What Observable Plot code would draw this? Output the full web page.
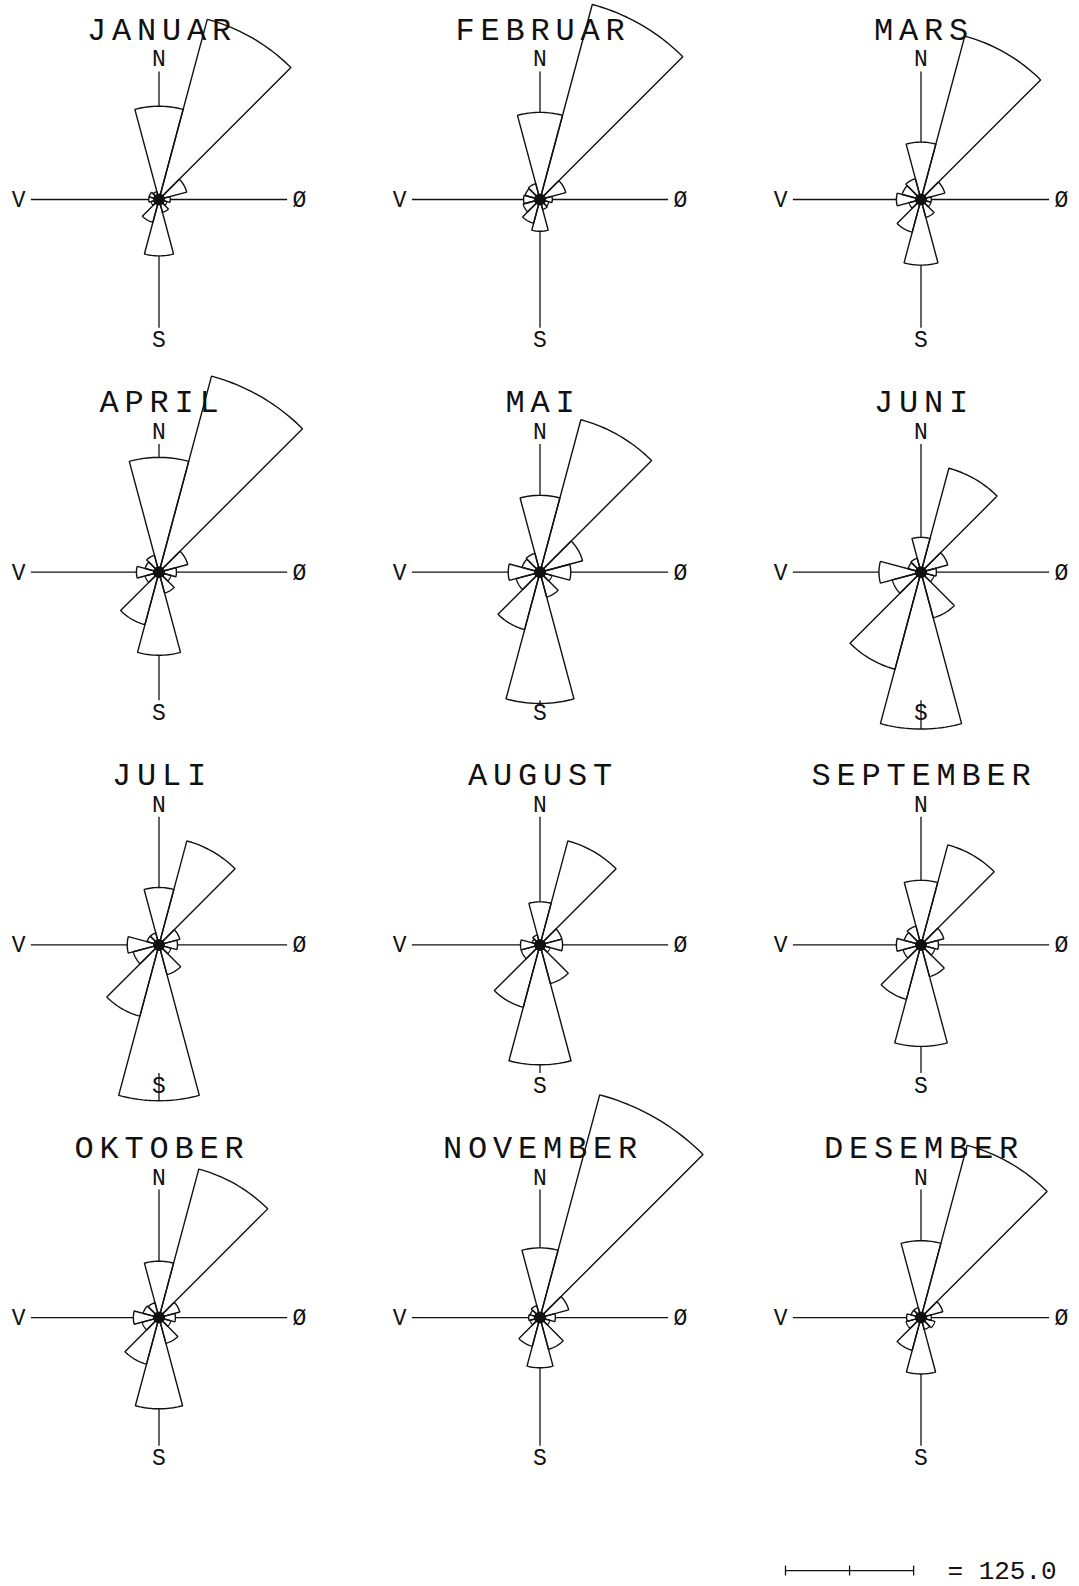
<!DOCTYPE html>
<html>
<head>
<meta charset="utf-8">
<script src="https://cdn.jsdelivr.net/npm/d3@7"></script>
<script src="https://cdn.jsdelivr.net/npm/@observablehq/plot@0.6"></script>
<style>
  html, body { margin: 0; padding: 0; background: #fff; }
  #chart svg { display: block; }
</style>
</head>
<body>
<div id="chart"></div>
<script>
// ---------- data ----------
const months = ["JANUAR","FEBRUAR","MARS","APRIL","MAI","JUNI","JULI","AUGUST","SEPTEMBER","OKTOBER","NOVEMBER","DESEMBER"];
const directions = [0, 30, 60, 90, 120, 150, 180, 210, 240, 270, 300, 330];
const cardinalDirections = [0, 90, 180, 270];
const cardinalLabels = ["N", "Ø", "S", "V"];

const januar    = [91, 182, 28, 11,  8, 13,  55, 23,  8, 10, 10,  8];
const februar   = [85, 197, 26, 12,  9, 10,  31, 24, 17, 16, 15, 16];
const mars      = [56, 165, 24, 10, 10, 18,  64, 33, 12, 24, 19, 21];
const april     = [112,198, 29, 17, 12, 21,  81, 53, 14, 22, 14, 17];
const mai       = [75, 154, 43, 30, 12, 25, 128, 58, 24, 31, 18, 19];
const juni      = [34, 105, 27, 15, 13, 46, 153, 98, 29, 41, 13, 14];
const juli      = [56, 105, 21, 18, 12, 30, 152, 72, 26, 31, 12, 12];
const august    = [42, 105, 22, 22, 10, 39, 117, 63, 19, 19,  8, 10];
const september = [63, 101, 23, 17, 14, 32,  99, 55, 18, 24, 17, 19];
const oktober   = [55, 150, 21, 16, 12, 26,  89, 47, 17, 25, 16, 15];
const november  = [68, 225, 29, 15, 10, 32,  49, 29, 10, 11, 10, 12];
const desember  = [75, 174, 22, 10, 14, 12,  55, 33, 15, 14, 10, 10];
const monthValues = [januar, februar, mars, april, mai, juni, juli, august, september, oktober, november, desember];

const scaleBarValue = 125.0;

// ---------- layout ----------
const W = 1079, H = 1586;
const pxPerUnit = 1.025;
const L = { marginTop: 31.3, marginBottom: 101.2, marginLeft: 0, marginRight: 0, padX: 0.168, padY: 0.1 };
const stepX = (W - L.marginLeft - L.marginRight) / (3 - L.padX);
const bwX = stepX * (1 - L.padX);
const stepY = (H - L.marginTop - L.marginBottom) / (4 - L.padY);
const bwY = stepY * (1 - L.padY);
const halfX = bwX / 2 / pxPerUnit, halfY = bwY / 2 / pxPerUnit;

const sectorHalf = 15, arcStep = 1.5;
const axisLength = 125, labelRadius = 137, titleRadius = 166;
const bar = { col: 2, row: 3, x0: -132.2, y: -246.8, tick: 4.8, textGap: 33 };

const rad = Math.PI / 180;
const px = (r, a) => r * Math.sin(a * rad);
const py = (r, a) => r * Math.cos(a * rad);

// ---------- derived tables ----------
const panels = months.map((name, m) => ({ name, col: m % 3, row: Math.floor(m / 3) }));

const sectorPts = [];
monthValues.forEach((vals, m) => {
  const { col, row } = panels[m];
  vals.forEach((v, j) => {
    const th = directions[j];
    const key = m * 100 + j;
    sectorPts.push({ key, col, row, a: th - sectorHalf, r: 0 });
    for (let a = th - sectorHalf; a <= th + sectorHalf + 1e-9; a += arcStep) sectorPts.push({ key, col, row, a, r: v });
    sectorPts.push({ key, col, row, a: th + sectorHalf, r: 0 });
  });
});

const axes = [];
const labels = [];
monthValues.forEach((vals, m) => {
  const { col, row } = panels[m];
  cardinalDirections.forEach((dir, c) => {
    const r0 = vals[directions.indexOf(dir)];
    axes.push({ col, row, a: dir, r1: r0, r2: axisLength });
    labels.push({ col, row, a: dir, r: labelRadius, text: cardinalLabels[c] });
  });
});

const ink = "#111";
const font = "'Liberation Mono', 'DejaVu Sans Mono', monospace";

const chart = Plot.plot({
  width: W, height: H,
  marginTop: L.marginTop, marginBottom: L.marginBottom, marginLeft: L.marginLeft, marginRight: L.marginRight,
  x: { domain: [-halfX, halfX], axis: null },
  y: { domain: [-halfY, halfY], axis: null },
  fx: { domain: [0, 1, 2], axis: null, paddingInner: L.padX, paddingOuter: 0, round: false },
  fy: { domain: [0, 1, 2, 3], axis: null, paddingInner: L.padY, paddingOuter: 0, round: false },
  style: { fontFamily: font, background: "#fff", color: ink },
  marks: [
    Plot.line(sectorPts, {
      x: d => px(d.r, d.a), y: d => py(d.r, d.a), z: "key", fx: "col", fy: "row",
      stroke: ink, strokeWidth: 1.4, fill: "none", strokeLinejoin: "miter"
    }),
    Plot.link(axes, {
      x1: d => px(d.r1, d.a), y1: d => py(d.r1, d.a), x2: d => px(d.r2, d.a), y2: d => py(d.r2, d.a),
      fx: "col", fy: "row", stroke: ink, strokeWidth: 1.3
    }),
    Plot.dot(panels, { x: () => px(0, 0), y: () => py(0, 0), fx: "col", fy: "row", r: 6, fill: ink, stroke: "none" }),
    Plot.text(labels, {
      x: d => px(d.r, d.a), y: d => py(d.r, d.a), text: "text", fx: "col", fy: "row",
      fontSize: 23, fill: ink, textAnchor: "middle", lineAnchor: "middle"
    }),
    Plot.text(panels, {
      x: () => px(titleRadius, 0), y: () => py(titleRadius, 0), text: "name", fx: "col", fy: "row",
      fontSize: 32, fill: ink, textAnchor: "middle", lineAnchor: "middle", dx: 3
    }),
    // scale bar
    Plot.link([scaleBarValue], {
      x1: () => bar.x0, x2: d => bar.x0 + d, y1: () => bar.y, y2: () => bar.y,
      fx: () => bar.col, fy: () => bar.row, stroke: ink, strokeWidth: 1.3
    }),
    Plot.link([0, scaleBarValue / 2, scaleBarValue], {
      x1: d => bar.x0 + d, x2: d => bar.x0 + d, y1: () => bar.y - bar.tick, y2: () => bar.y + bar.tick,
      fx: () => bar.col, fy: () => bar.row, stroke: ink, strokeWidth: 1.3
    }),
    Plot.text([scaleBarValue], {
      x: d => bar.x0 + d + bar.textGap, y: () => bar.y, text: d => "= " + d.toFixed(1),
      fx: () => bar.col, fy: () => bar.row, fontSize: 26, fill: ink, textAnchor: "start", lineAnchor: "middle"
    })
  ]
});

chart.querySelectorAll('g[font-size="32"]').forEach(g => g.setAttribute("letter-spacing", "5.8"));
document.getElementById("chart").appendChild(chart);
</script>
</body>
</html>
